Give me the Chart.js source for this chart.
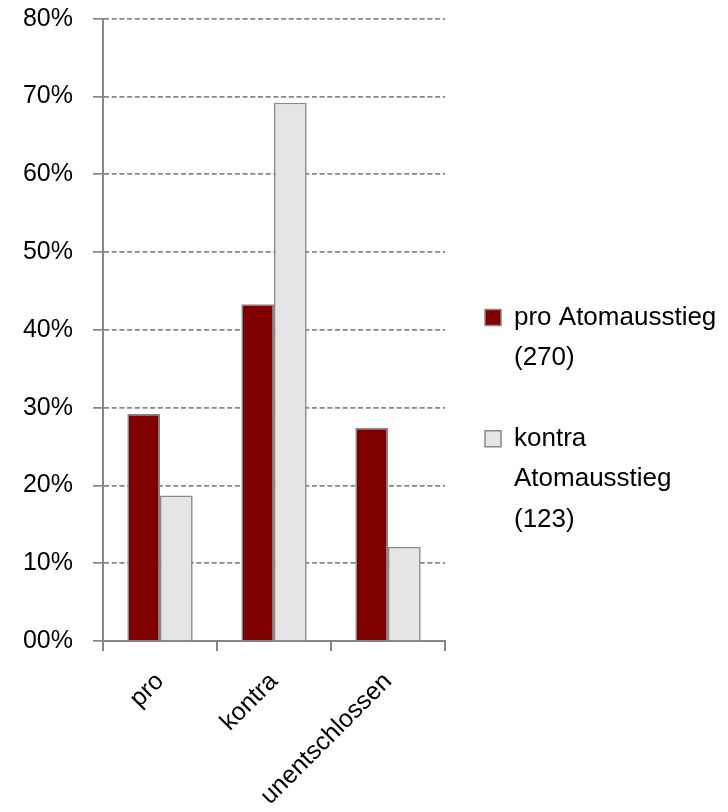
<!DOCTYPE html>
<html>
<head>
<meta charset="utf-8">
<script src="https://cdn.jsdelivr.net/npm/chart.js@4/dist/chart.umd.min.js"></script>
<style>
  html, body { margin: 0; padding: 0; background: #fff; }
  #wrap { width: 728px; height: 812px; }
</style>
</head>
<body>
<div id="wrap"><canvas id="chart" width="728" height="812"></canvas></div>
<script>
// categories and values (percent)
const categories = ['pro', 'kontra', 'unentschlossen'];
const proValues = [29.2, 43.3, 27.4];
const kontraValues = [18.7, 69.2, 12.1];
const seriesNames = ['pro Atomausstieg (270)', 'kontra Atomausstieg (123)'];
const legendLines = [['pro Atomausstieg', '(270)'], ['kontra', 'Atomausstieg', '(123)']];
const yTicks = { min: 0, max: 80, step: 10 };

const FONT = 'Liberation Sans, Arial, sans-serif';
const AXIS = '#868686';

const ctx = document.getElementById('chart');

new Chart(ctx, {
  type: 'bar',
  data: {
    labels: categories,
    datasets: [
      {
        label: seriesNames[0],
        data: proValues,
        backgroundColor: '#800000',
        borderColor: '#888888',
        borderWidth: 1.6,
        borderSkipped: 'bottom'
      },
      {
        label: seriesNames[1],
        data: kontraValues,
        backgroundColor: '#e5e5e5',
        borderColor: '#888888',
        borderWidth: 1.6,
        borderSkipped: 'bottom'
      }
    ]
  },
  options: {
    responsive: false,
    animation: false,
    categoryPercentage: 0.573,
    barPercentage: 1.0,
    layout: { padding: { left: 22, right: 2, top: -10, bottom: -50 } },
    plugins: {
      tooltip: { enabled: false },
      legend: {
        position: 'right',
        maxWidth: 281,
        labels: {
          color: '#000',
          font: { family: FONT, size: 26, lineHeight: 1.56 },
          boxWidth: 16,
          boxHeight: 16,
          padding: 40,
          generateLabels (chart) {
            const items = Chart.defaults.plugins.legend.labels.generateLabels(chart);
            items.forEach((it, i) => { it.text = legendLines[i]; it.lineWidth = 1.5; });
            return items;
          }
        }
      }
    },
    scales: {
      x: {
        afterFit (scale) { scale.height = 221; },
        border: { display: true, color: AXIS, width: 2 },
        grid: {
          display: true,
          drawOnChartArea: false,
          drawTicks: true,
          tickLength: 10,
          color: AXIS,
          lineWidth: 2
        },
        ticks: {
          color: '#000',
          font: { family: FONT, size: 25 },
          minRotation: 45,
          maxRotation: 45,
          autoSkip: false,
          padding: 16
        }
      },
      y: {
        min: yTicks.min,
        max: yTicks.max,
        afterFit (scale) { scale.width = 81; scale.paddingTop = 18.7; },
        border: { display: true, color: AXIS, width: 2, dash: [5, 2.7] },
        grid: {
          color: AXIS,
          lineWidth: 1.7,
          tickLength: 10,
          tickBorderDash: [],
          drawTicks: true
        },
        ticks: {
          stepSize: yTicks.step,
          color: '#000',
          font: { family: FONT, size: 25 },
          padding: 20,
          callback: (v) => String(v).padStart(2, '0') + '%'
        }
      }
    }
  }
});
</script>
</body>
</html>
